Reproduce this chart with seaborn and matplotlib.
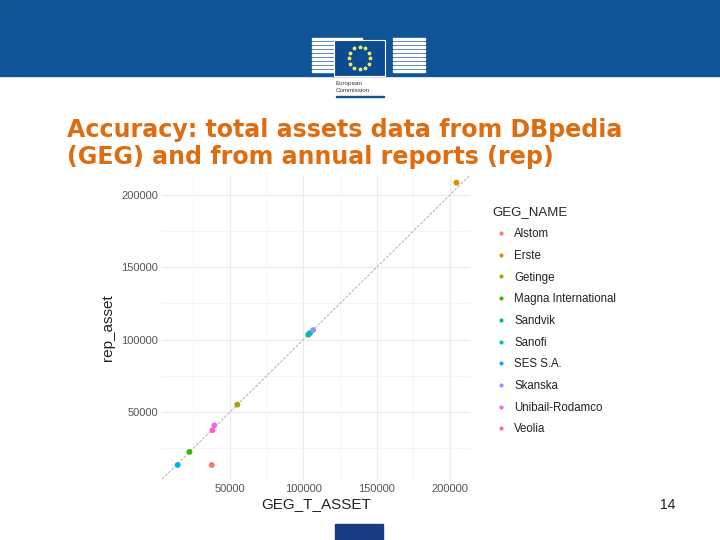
import matplotlib
matplotlib.use("Agg")
import numpy as np
import pandas as pd
import matplotlib.pyplot as plt
import matplotlib.patches as mpatches
import seaborn as sns

# data
names = ["Alstom", "Erste", "Getinge", "Magna International", "Sandvik",
         "Sanofi", "SES S.A.", "Skanska", "Unibail-Rodamco", "Veolia"]
geg_asset = [37500, 204500, 55000, 22300, 103500, 104500, 14300, 106700, 39300, 38000]
rep_asset = [13400, 208500, 55100, 22400, 103500, 104500, 13400, 106600, 40800, 37400]
palette = ["#F8766D", "#D89000", "#A3A500", "#39B600", "#00BF7D",
           "#00BFC4", "#00B0F6", "#9590FF", "#E76BF3", "#FF62BC"]

df = pd.DataFrame({"GEG_NAME": names, "GEG_T_ASSET": geg_asset, "rep_asset": rep_asset})

sns.set_style("white")
plt.rcParams["font.family"] = ["Liberation Sans", "DejaVu Sans"]

fig = plt.figure(figsize=(7.2, 5.4), dpi=100)

# ── slide header band and logo ──────────────────────────────────────────────
fig.patches.append(mpatches.Rectangle((0, 1 - 76/540), 1, 76/540, transform=fig.transFigure,
                                      color="#0F5496", zorder=0))
# building stripes
for i in range(9):
    y0 = 1 - (40 + i*4)/540
    fig.patches.append(mpatches.Rectangle((312/720, y0), 50/720, 2/540, transform=fig.transFigure,
                                          color="white", zorder=1))
    fig.patches.append(mpatches.Rectangle((393/720, y0), 32/720, 2/540, transform=fig.transFigure,
                                          color="white", zorder=1))
# flag
fig.patches.append(mpatches.Rectangle((334/720, 1 - 76/540), 51/720, 36/540, transform=fig.transFigure,
                                      facecolor="#0E4C92", edgecolor="white", lw=0.8, zorder=2))
ang = np.linspace(0, 2*np.pi, 12, endpoint=False)
fig.lines.append(plt.Line2D(359.5/720 + 11/720*np.cos(ang), 1 - 58/540 + 11/540*np.sin(ang),
                            transform=fig.transFigure, ls="none", marker="*", ms=2.5,
                            color="#E8E86A", zorder=3))
fig.text(336/720, 1 - 83/540, "European", fontsize=4.5, color="#333333", va="center")
fig.text(336/720, 1 - 91/540, "Commission", fontsize=4.5, color="#333333", va="center")
fig.patches.append(mpatches.Rectangle((336/720, 1 - 97/540), 48/720, 1.5/540, transform=fig.transFigure,
                                      color="#0F5496", zorder=2))
# bottom tab
fig.patches.append(mpatches.Rectangle((335/720, 0), 48/720, 16/540, transform=fig.transFigure,
                                      color="#183B82", zorder=1))

# ── title ───────────────────────────────────────────────────────────────────
title_kw = dict(fontsize=17.1, fontweight="bold", color="#E06C10", va="center", ha="left",
                family="DejaVu Sans")
fig.text(67/720, 1 - 130/540, "Accuracy: total assets data from DBpedia", **title_kw)
fig.text(67/720, 1 - 157/540, "(GEG) and from annual reports (rep)", **title_kw)
fig.text(668/720, 1 - 505/540, "14", fontsize=10, color="#222222", ha="center", va="center")

# ── scatter plot ────────────────────────────────────────────────────────────
ax = fig.add_axes([162/720, 1 - 480/540, 308/720, 305/540])
sns.scatterplot(data=df, x="GEG_T_ASSET", y="rep_asset", hue="GEG_NAME", hue_order=names,
                palette=palette, s=18, edgecolor="none", ax=ax, zorder=3)
ax.axline((0, 0), slope=1, color="#B0B0B0", lw=0.7, ls=(0, (3, 1.5)), zorder=2)

ax.set_xlim(3600, 213700)
ax.set_ylim(3000, 213800)
ax.set_xticks([50000, 100000, 150000, 200000])
ax.set_yticks([50000, 100000, 150000, 200000])
ax.set_xticks([25000, 75000, 125000, 175000], minor=True)
ax.set_yticks([25000, 75000, 125000, 175000], minor=True)
ax.grid(which="major", color="#EBEBEB", lw=0.8)
ax.grid(which="minor", color="#F4F4F4", lw=0.6)
ax.set_axisbelow(True)
for sp in ax.spines.values():
    sp.set_visible(False)
ax.tick_params(which="both", length=0, labelsize=8, labelcolor="#555555", pad=3)
ax.set_xlabel("GEG_T_ASSET", fontsize=11, color="#222222", labelpad=2)
ax.set_ylabel("rep_asset", fontsize=11, color="#222222", labelpad=4)

leg = ax.legend(title="GEG_NAME", loc="upper left", bbox_to_anchor=(1.057, 0.912),
                frameon=False, fontsize=8.3, title_fontsize=9.5, markerscale=0.7,
                handletextpad=0.3, handlelength=1.6, labelspacing=0.84, borderaxespad=0)
leg._legend_box.align = "left"
for t in leg.get_texts():
    t.set_color("#222222")

fig.savefig("out.png", dpi=100)
